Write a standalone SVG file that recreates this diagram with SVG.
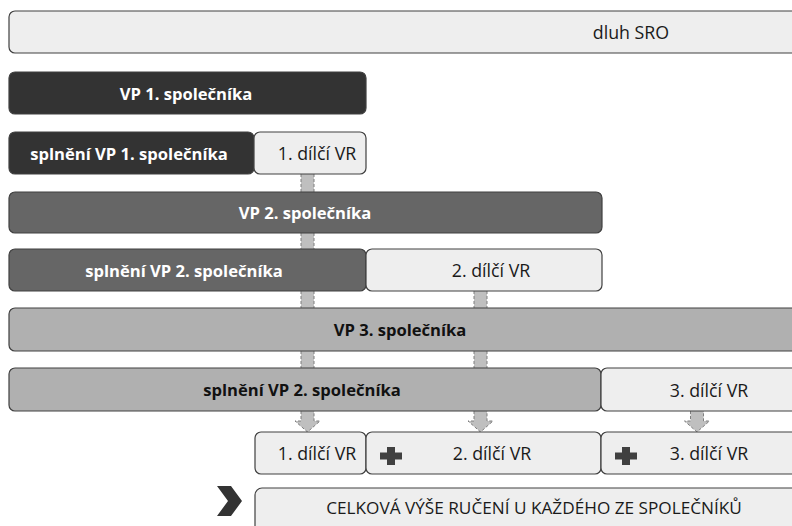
<svg xmlns="http://www.w3.org/2000/svg" width="792" height="526" viewBox="0 0 792 526">
<defs>
<style>
.box{stroke:#404040;stroke-width:1.2}
.light{fill:#eeeeee}
.d1{fill:#333333}
.d2{fill:#666666}
.d3{fill:#b0b0b0}
text{font-family:"Open Sans","Liberation Sans",sans-serif;dominant-baseline:central;text-anchor:middle}
.b{font-weight:bold;font-size:16.6px}
.w{fill:#ffffff}
.k{fill:#111111}
.r{font-size:17.8px;fill:#1a1a1a}
.c{font-size:17.2px}
.bar{fill:#bfbfbf}
.dash{stroke:#7f7f7f;stroke-width:1;stroke-dasharray:3,2;fill:none}
</style>
</defs>
<rect width="792" height="526" fill="#ffffff"/>
<g id="connectors">
<g>
<rect class="bar" x="301" y="174" width="13" height="18"/><path class="dash" d="M301,174V192M314,174V192"/>
<rect class="bar" x="301" y="233" width="13" height="16"/><path class="dash" d="M301,233V249M314,233V249"/>
<rect class="bar" x="301" y="291" width="13" height="17"/><path class="dash" d="M301,291V308M314,291V308"/>
<rect class="bar" x="301" y="351" width="13" height="17"/><path class="dash" d="M301,351V368M314,351V368"/>
<rect class="bar" x="474" y="291" width="13" height="17"/><path class="dash" d="M474,291V308M487,291V308"/>
<rect class="bar" x="474" y="351" width="13" height="17"/><path class="dash" d="M474,351V368M487,351V368"/>
</g>
<path class="bar" d="M301,411V421H295L307.5,432L320,421H314V411Z"/>
<path class="dash" d="M301,411V421H295L307.5,432L320,421H314V411"/>
<path class="bar" d="M474,411V421H468L480.5,432L493,421H487V411Z"/>
<path class="dash" d="M474,411V421H468L480.5,432L493,421H487V411"/>
<path class="bar" d="M690.5,411V421H684.5L697,432L709.5,421H703.5V411Z"/>
<path class="dash" d="M690.5,411V421H684.5L697,432L709.5,421H703.5V411"/>
</g>
<g id="n1"><rect class="box light" x="9" y="11" width="1244" height="42" rx="6"/><text class="r" x="631" y="32">dluh SRO</text></g>
<g id="n2"><rect class="box d1" x="9" y="72" width="357" height="42" rx="6"/><text class="b w" x="186" y="93">VP 1. společníka</text></g>
<g id="n3"><rect class="box d1" x="9" y="132" width="245" height="42" rx="6"/><text class="b w" x="129" y="153">splnění VP 1. společníka</text></g>
<g id="n4"><rect class="box light" x="254" y="132" width="112" height="42" rx="6"/><text class="r" x="317" y="153">1. dílčí VR</text></g>
<g id="n5"><rect class="box d2" x="9" y="192" width="593" height="41" rx="6"/><text class="b w" x="305" y="212.5">VP 2. společníka</text></g>
<g id="n6"><rect class="box d2" x="9" y="249" width="357" height="42" rx="6"/><text class="b w" x="184" y="270">splnění VP 2. společníka</text></g>
<g id="n7"><rect class="box light" x="366" y="249" width="236" height="42" rx="6"/><text class="r" x="491" y="270">2. dílčí VR</text></g>
<g id="n8"><rect class="box d3" x="9" y="308" width="800" height="43" rx="6"/><text class="b k" x="400" y="329.5">VP 3. společníka</text></g>
<g id="n9"><rect class="box d3" x="9" y="368" width="592" height="43" rx="6"/><text class="b k" x="302" y="389.5">splnění VP 2. společníka</text></g>
<g id="n10"><rect class="box light" x="601" y="368" width="216" height="43" rx="6"/><text class="r" x="709" y="389.5">3. dílčí VR</text></g>
<g id="n11"><rect class="box light" x="255" y="432" width="111" height="42" rx="6"/><text class="r" x="317" y="453">1. dílčí VR</text></g>
<g id="n12"><rect class="box light" x="366" y="432" width="235" height="42" rx="6"/><path d="M387,447h8v5.5h7v7h-7v5.5h-8v-5.5h-7v-7h7z" fill="#404040"/><text class="r" x="492" y="453">2. dílčí VR</text></g>
<g id="n13"><rect class="box light" x="601" y="432" width="216" height="42" rx="6"/><path d="M622,447h8v5.5h7v7h-7v5.5h-8v-5.5h-7v-7h7z" fill="#404040"/><text class="r" x="709" y="453">3. dílčí VR</text></g>
<g id="n14"><path d="M217,486H231L242,501L231,516H217L228,501Z" fill="#333333"/><rect class="box light" x="255" y="488" width="560" height="60" rx="7"/><text class="r c" x="534" y="507">CELKOVÁ VÝŠE RUČENÍ U KAŽDÉHO ZE SPOLEČNÍKŮ</text></g>
</svg>
